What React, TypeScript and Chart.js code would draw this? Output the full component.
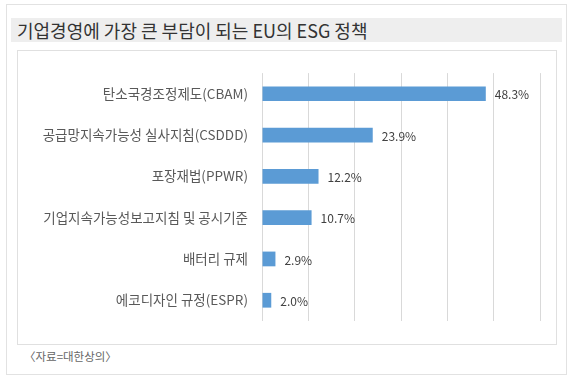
import React, { useEffect, useRef } from "react";
import { Chart, registerables } from "chart.js";

Chart.register(...registerables);

const categories = [
  "탄소국경조정제도(CBAM)",
  "공급망지속가능성 실사지침(CSDDD)",
  "포장재법(PPWR)",
  "기업지속가능성보고지침 및 공시기준",
  "배터리 규제",
  "에코디자인 규정(ESPR)",
];
const values = [48.3, 23.9, 12.2, 10.7, 2.9, 2.0];
const xMax = 60;
const xStep = 10;

const FONT = "'Noto Sans CJK KR', 'Noto Sans', sans-serif";

const valueLabels = {
  id: "valueLabels",
  afterDatasetsDraw(chart: any) {
    const ctx = chart.ctx;
    const meta = chart.getDatasetMeta(0);
    ctx.save();
    ctx.fillStyle = "#404040";
    ctx.font = `12px ${FONT}`;
    ctx.textAlign = "left";
    ctx.textBaseline = "middle";
    meta.data.forEach((bar: any, i: number) => {
      ctx.fillText(values[i].toFixed(1) + "%", bar.x + 9, bar.y + 1);
    });
    ctx.restore();
  },
};

export default function App() {
  const ref = useRef<HTMLCanvasElement | null>(null);
  useEffect(() => {
    if (!ref.current) return;
    const chart = new Chart(ref.current, {
      type: "bar",
      data: {
        labels: categories,
        datasets: [
          {
            data: values,
            backgroundColor: "#5b9bd5",
            categoryPercentage: 0.7,
            barPercentage: 0.51,
          },
        ],
      },
      options: {
        indexAxis: "y",
        animation: false,
        responsive: false,
        maintainAspectRatio: false,
        layout: { padding: { top: 16, right: 16, bottom: 15, left: 0 } },
        plugins: {
          legend: { display: false },
          tooltip: { enabled: false },
        },
        scales: {
          x: {
            min: 0,
            max: xMax,
            ticks: { display: false, stepSize: xStep },
            grid: { color: "#d9d9d9", drawTicks: false, lineWidth: 1 },
            border: { display: false },
          },
          y: {
            ticks: {
              color: "#595959",
              font: { family: FONT, size: 13.5 },
              padding: 14,
            },
            grid: { display: false, drawTicks: false },
            border: { display: false },
            afterFit(scale: any) {
              scale.width = 244;
            },
          },
        },
      },
      plugins: [valueLabels],
    });
    return () => chart.destroy();
  }, []);

  return (
    <div
      style={{
        position: "absolute",
        left: 0,
        top: 0,
        width: 574,
        height: 387,
        background: "#ffffff",
        fontFamily: FONT,
      }}
    >
      <div
        style={{
          position: "absolute",
          left: 6,
          top: 4,
          width: 561,
          height: 371,
          border: "1px solid #e2e2e2",
          boxSizing: "border-box",
        }}
      />
      <div
        style={{
          position: "absolute",
          left: 11,
          top: 18,
          width: 551,
          height: 24,
          background: "#eeeeee",
        }}
      />
      <div
        style={{
          position: "absolute",
          left: 17,
          top: 18,
          height: 24,
          lineHeight: "24px",
          fontSize: 18,
          color: "#333333",
          whiteSpace: "nowrap",
        }}
      >
        기업경영에 가장 큰 부담이 되는 EU의 ESG 정책
      </div>
      <div
        style={{
          position: "absolute",
          left: 17,
          top: 50,
          width: 540,
          height: 295,
          border: "1px solid #e0e0e0",
          boxSizing: "border-box",
        }}
      />
      <canvas
        ref={ref}
        width={538}
        height={292}
        style={{ position: "absolute", left: 18, top: 51, width: 538, height: 292 }}
      />
      <div
        style={{
          position: "absolute",
          left: 24,
          top: 347,
          height: 18,
          lineHeight: "18px",
          fontSize: 11.5,
          color: "#666666",
          whiteSpace: "nowrap",
        }}
      >
        〈자료=대한상의〉
      </div>
    </div>
  );
}
